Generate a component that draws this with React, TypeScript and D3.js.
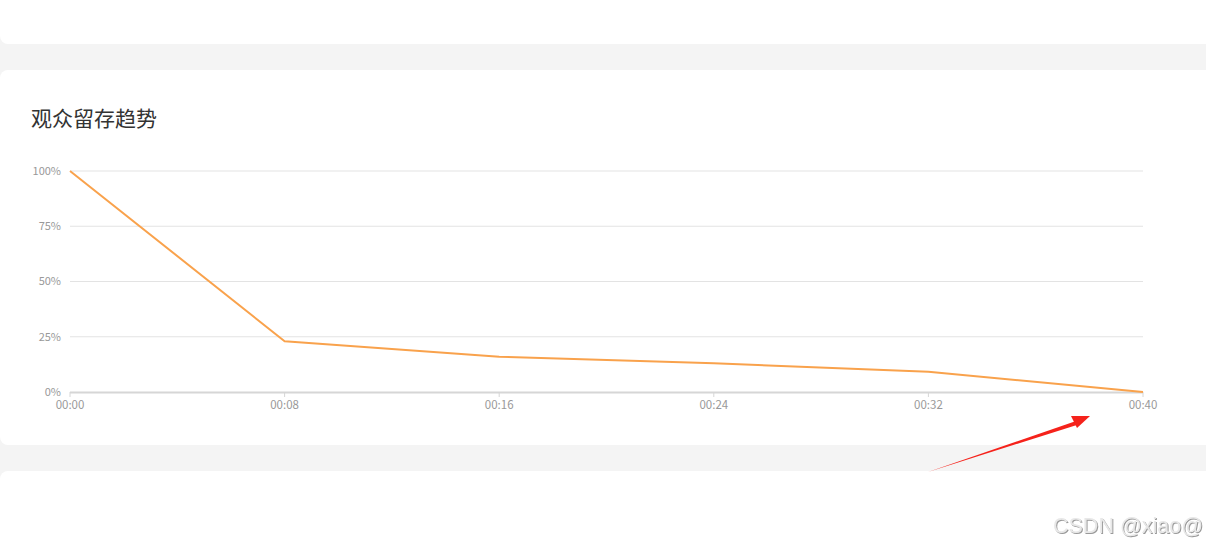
import React from "react";
import * as d3 from "d3";

const title = "观众留存趋势";
const timeLabels = ["00:00", "00:08", "00:16", "00:24", "00:32", "00:40"];
const timeSeconds = [0, 8, 16, 24, 32, 40];
const retention = [100, 23, 16, 13, 9.2, 0];
const yTicks = [0, 25, 50, 75, 100];

const W = 1206;
const H = 546;

export default function App() {
  const x = d3.scaleLinear().domain([0, 40]).range([70, 1143]);
  const y = d3.scaleLinear().domain([0, 100]).range([392, 171]);
  const line = d3
    .line<number>()
    .x((_, i) => x(timeSeconds[i]))
    .y((d) => y(d));
  const font = "'Microsoft YaHei', 'Noto Sans CJK SC', 'Noto Sans', sans-serif";

  return (
    <svg
      width={W}
      height={H}
      style={{ position: "absolute", left: 0, top: 0, background: "#f4f4f4" }}
      fontFamily={font}
    >
      <defs>
        <filter id="emb" x="-5%" y="-20%" width="110%" height="140%">
          <feOffset dx="1" dy="1" in="SourceAlpha" result="o" />
          <feFlood floodColor="#999" result="c" />
          <feComposite in="c" in2="o" operator="in" result="s" />
          <feMerge>
            <feMergeNode in="s" />
            <feMergeNode in="SourceGraphic" />
          </feMerge>
        </filter>
      </defs>
      {/* cards */}
      <rect x={0} y={-20} width={W + 20} height={64} rx={8} fill="#fff" />
      <rect x={0} y={70} width={W + 20} height={375} rx={8} fill="#fff" />
      <rect x={0} y={471} width={W + 20} height={100} rx={8} fill="#fff" />

      <text x={31} y={126} fontSize={21} fill="#333">
        {title}
      </text>

      {yTicks.map((t) => (
        <g key={t}>
          {t > 0 && (
            <line x1={70} x2={1143} y1={y(t)} y2={y(t)} stroke="#e3e3e3" strokeWidth={1} />
          )}
          <text
            x={61}
            y={y(t)}
            dy="0.35em"
            textAnchor="end"
            fontSize={11}
            fill="#999"
          >
            {t}%
          </text>
        </g>
      ))}

      <line x1={70} x2={1143} y1={392.5} y2={392.5} stroke="#d6d6d6" strokeWidth={2} />
      {timeSeconds.map((s, i) => (
        <g key={s}>
          <line x1={x(s)} x2={x(s)} y1={392} y2={397} stroke="#d6d6d6" strokeWidth={1} />
          <text x={x(s)} y={409} textAnchor="middle" fontSize={11.5} fill="#999">
            {timeLabels[i]}
          </text>
        </g>
      ))}

      <path
        d={line(retention) || ""}
        fill="none"
        stroke="#f9a24c"
        strokeWidth={2}
        strokeLinejoin="round"
      />

      {/* annotation arrow */}
      <path d="M928,472 L1079,420 L1080,424 Z" fill="#f5221b" />
      <path d="M1090,416 L1071,416 L1077,428 Z" fill="#f5221b" />

      <text
        x={1053}
        y={533}
        fontSize={21.5}
        fill="#e8e8e8"
        filter="url(#emb)"
        fontFamily="'Liberation Sans', Arial, sans-serif"
      >
        CSDN @xiao@
      </text>
    </svg>
  );
}
